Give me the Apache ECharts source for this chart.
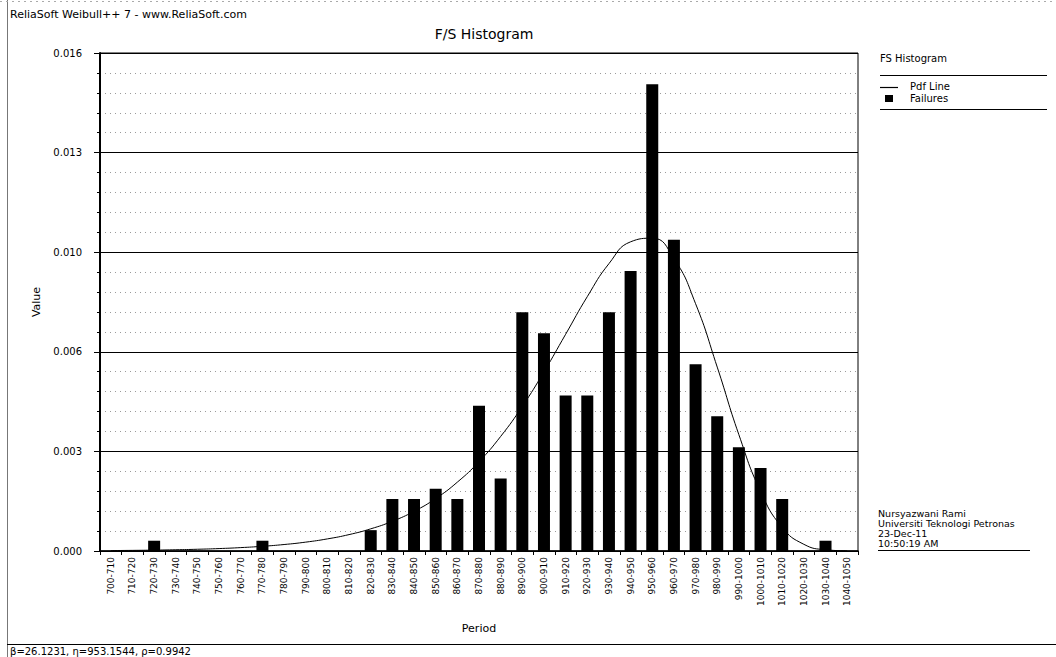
<!DOCTYPE html>
<html>
<head>
<meta charset="utf-8">
<script src="https://cdn.jsdelivr.net/npm/echarts@6/dist/echarts.min.js"></script>
<style>
html,body{margin:0;padding:0;background:#fff;}
#chart{width:1056px;height:657px;}
</style>
</head>
<body>
<div id="chart"></div>
<script>
const categories = ['700-710','710-720','720-730','730-740','740-750','750-760','760-770','770-780','780-790','790-800',
  '800-810','810-820','820-830','830-840','840-850','850-860','860-870','870-880','880-890','890-900',
  '900-910','910-920','920-930','930-940','940-950','950-960','960-970','970-980','980-990','990-1000',
  '1000-1010','1010-1020','1020-1030','1030-1040','1040-1050'];

const failures = [0,0,0.00033,0,0,0,0,0.00033,0,0,
  0,0,0.00067,0.00167,0.00167,0.002,0.00167,0.00467,0.00233,0.00767,
  0.007,0.005,0.005,0.00767,0.009,0.015,0.01,0.006,0.00433,0.00333,
  0.00267,0.00167,0,0.00033,0];

const pdfLine = [0.000014,0.00002,0.000028,0.00004,0.000056,0.000078,0.000109,0.000151,0.000208,0.000285,
  0.000389,0.000527,0.000712,0.000955,0.001274,0.001686,0.002212,0.002871,0.003681,0.004647,
  0.005757,0.006963,0.008172,0.009232,0.009934,0.01005,0.009396,0.007946,0.005909,0.003736,
  0.001919,0.000758,0.000215,0.00004,0.000004];

const yMin = 0, yMax = 0.016, yStep = 0.0032;

const chartTitle = 'F/S Histogram';
const headerText = 'ReliaSoft Weibull++ 7 - www.ReliaSoft.com';
const paramText = 'β=26.1231, η=953.1544, ρ=0.9942';
const legendTitle = 'FS Histogram';
const noteLines = ['Nursyazwani Rami','Universiti Teknologi Petronas','23-Dec-11','10:50:19 AM'];

const FONT = 'DejaVu Sans';
const chart = echarts.init(document.getElementById('chart'), null, {renderer:'svg'});

const option = {
  backgroundColor:'#fff',
  animation:false,
  textStyle:{fontFamily:FONT,color:'#000'},
  title:{text:chartTitle,left:479,textAlign:'center',top:22,
    textStyle:{fontFamily:FONT,fontSize:14,fontWeight:'normal',color:'#000'}},
  grid:{left:100,right:198,top:53,bottom:106,show:true,borderColor:'#000',borderWidth:1,backgroundColor:'transparent'},
  xAxis:{type:'category',data:categories,boundaryGap:true,
    name:'Period',nameLocation:'middle',nameGap:72,
    nameTextStyle:{fontFamily:FONT,fontSize:11,color:'#000'},
    axisLine:{lineStyle:{color:'#000',width:1.5}},
    axisTick:{show:true,length:4,interval:0,lineStyle:{color:'#000'}},
    axisLabel:{interval:0,rotate:90,fontSize:9,fontFamily:FONT,color:'#000',margin:6},
    splitLine:{show:false}},
  yAxis:{type:'value',min:yMin,max:yMax,interval:yStep,
    name:'Value',nameLocation:'middle',nameGap:56,nameRotate:90,
    nameTextStyle:{fontFamily:FONT,fontSize:11,color:'#000'},
    axisLine:{show:true,lineStyle:{color:'#000',width:2}},
    axisTick:{show:true,length:6,lineStyle:{color:'#000'}},
    minorTick:{show:true,splitNumber:5,length:3,lineStyle:{color:'#000'}},
    axisLabel:{fontSize:10,fontFamily:FONT,color:'#000',margin:18,formatter:v=>v.toFixed(3)},
    splitLine:{show:true,lineStyle:{color:'#000',width:1}},
    minorSplitLine:{show:true,lineStyle:{color:'#9a9a9a',width:1,type:[1,4]}}},
  series:[
    {name:'Failures',type:'bar',data:failures,barWidth:12,itemStyle:{color:'#000'},z:2},
    {name:'Pdf Line',type:'line',data:pdfLine,smooth:0.5,showSymbol:false,symbol:'none',
      lineStyle:{color:'#000',width:1},z:3}
  ],
  graphic:[
    {type:'text',left:10,top:9,style:{text:headerText,font:'11px "DejaVu Sans"',fill:'#000'}},
    {type:'line',shape:{x1:7.5,y1:0,x2:7.5,y2:657},style:{stroke:'#777',lineWidth:1}},
    {type:'line',shape:{x1:0,y1:1.5,x2:1056,y2:1.5},style:{stroke:'#aaa',lineWidth:1,lineDash:[2,4]}},
    {type:'line',shape:{x1:7,y1:644.5,x2:1056,y2:644.5},style:{stroke:'#000',lineWidth:1}},
    {type:'text',left:10,top:646,style:{text:paramText,font:'10px "DejaVu Sans"',fill:'#000'}},
    {type:'text',left:880,top:53,style:{text:legendTitle,font:'10px "DejaVu Sans"',fill:'#000'}},
    {type:'line',shape:{x1:880,y1:75.5,x2:1047,y2:75.5},style:{stroke:'#000',lineWidth:1}},
    {type:'line',shape:{x1:880,y1:87.5,x2:898,y2:87.5},style:{stroke:'#000',lineWidth:1.2}},
    {type:'text',left:910,top:81,style:{text:'Pdf Line',font:'10px "DejaVu Sans"',fill:'#000'}},
    {type:'rect',shape:{x:885,y:95,width:8,height:7},style:{fill:'#000'}},
    {type:'text',left:910,top:93,style:{text:'Failures',font:'10px "DejaVu Sans"',fill:'#000'}},
    {type:'line',shape:{x1:880,y1:109.5,x2:1047,y2:109.5},style:{stroke:'#000',lineWidth:1}},
    {type:'text',left:878,top:508,style:{text:noteLines.join('\n'),font:'9.5px "DejaVu Sans"',lineHeight:10,fill:'#000'}},
    {type:'line',shape:{x1:878,y1:550.5,x2:1030,y2:550.5},style:{stroke:'#000',lineWidth:1}}
  ]
};
chart.setOption(option);
</script>
</body>
</html>
